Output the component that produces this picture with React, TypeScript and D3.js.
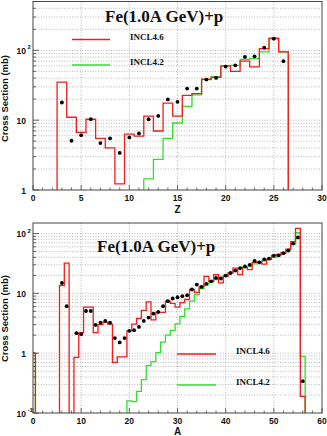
import React, { useEffect, useRef } from 'react';
import * as d3 from 'd3';

// ---- upper panel: fragment charge Z ----
const zBins = [3, 4, 5, 6, 7, 8, 9, 10, 11, 12, 13, 14, 15, 16, 17, 18, 19, 20, 21, 22, 23, 24, 25, 26];
const zIncl46 = [35, 11, 6.7, 10.3, 5.5, 4.0, 1.22, 6.3, 5.9, 11.4, 7.0, 17.5, 11.4, 22.7, 24, 38.5, 41, 60, 50, 70, 58, 106, 147, 95];
const zBins42 = [12, 13, 14, 15, 16, 17, 18, 19, 20, 21, 22, 23, 24, 25, 26];
const zIncl42 = [1.44, 2.75, 5.5, 9.1, 15.8, 23, 38, 42, 60, 61, 74, 76, 95, 150, 95];
const zExp = [17.9, 5.07, 6.1, 10.3, 4.7, 5.5, 3.4, 5.66, 6.45, 10.3, 11.5, 19.8, 18.3, 28.3, 28.3, 38.1, 40.2, 58.6, 61, 80.5, 82, 109, 147, 70];
const zTicks = [0, 5, 10, 15, 20, 25, 30];

// ---- lower panel: fragment mass A ----
const aBins = [0, 1, 2, 3, 4, 5, 6, 7, 8, 9, 10, 11, 12, 13, 14, 15, 16, 17, 18, 19, 20, 21, 22, 23, 24, 25, 26, 27, 28,
  29, 30, 31, 32, 33, 34, 35, 36, 37, 38, 39, 40, 41, 42, 43, 44, 45, 46, 47, 48, 49, 50, 51, 52, 53, 54, 55, 56];
// 0 = empty bin (below the axis)
const aIncl46 = [1.0, 0, 0, 0, 0, 0, 13.5, 32, 0, 0.85, 2.2, 5.9, 5.9, 2.2, 3.0, 3.3, 3.05, 0.70, 0.87, 0.87, 2.36, 3.05,
  3.8, 5.2, 7.2, 3.6, 4.8, 4.8, 7.4, 6.8, 5.9, 7.0, 7.9, 11.6, 10.4, 13.1, 19.2, 15.9, 20.5, 15, 19.2, 21.9, 26.5, 20.5,
  27, 25, 33, 34, 30.9, 37, 43, 45, 48, 55, 73, 122, 0.19];
const aIncl42 = [1.0, 0, 0, 0, 0, 0, 0, 0, 0, 0, 0, 0, 0, 0, 0, 0, 0, 0, 0, 0, 0.16, 0.155, 0.23, 0.36, 0.62, 0.72, 1.02,
  1.53, 2.0, 2.4, 3.1, 4.1, 5.5, 7.4, 9.6, 12, 14, 15.5, 17, 18.5, 20, 22, 24, 26, 28, 28.5, 31, 33, 35, 37, 40, 43, 46,
  52, 66, 103, 0.88];
const aExpA = [6, 7, 9, 10, 11, 12, 13, 14, 15, 16, 17, 18, 19, 20, 21, 22, 23, 24, 25, 26, 27, 28, 29, 30, 31, 32, 33,
  34, 35, 36, 37, 38, 39, 40, 41, 42, 43, 44, 45, 46, 47, 48, 49, 50, 51, 52, 53, 54, 55, 56];
const aExp = [14.9, 6.1, 2.16, 2.08, 5.07, 5.07, 2.97, 3.24, 3.46, 3.24, 1.79, 1.51, 1.79, 2.36, 2.42, 2.75, 3.46, 3.93,
  4.57, 4.88, 6.1, 7.4, 8.2, 8.6, 8.97, 9.3, 11.6, 14.0, 12.8, 14.4, 15.9, 18.1, 17.7, 19.8, 21.9, 24.0, 26.5, 28.2, 30,
  35, 33, 37, 38, 42.5, 43, 47, 52, 68, 86, 0.34];
const aTicks = [0, 10, 20, 30, 40, 50, 60];

const RED = '#f41c1c';
const GREEN = '#2fe02f';
const SANS = "'Liberation Sans', Arial, Helvetica, sans-serif";
const SERIF = "'Liberation Serif', 'Times New Roman', serif";

function histPath(xs, vs, x, y, floor) {
  let p = `M${x(xs[0] - 0.5)},${floor}`;
  xs.forEach((a, i) => {
    const yy = vs[i] > 0 ? Math.min(y(vs[i]), floor) : floor;
    p += `V${yy}H${x(a + 0.5)}`;
  });
  return p + `V${floor}`;
}

function drawPanel(svg, o) {
  const x = d3.scaleLinear().domain(o.xDomain).range([o.left, o.right]);
  const y = d3.scaleLog().domain(o.yDomain).range([o.bottom, o.top]);
  const g = svg.append('g');

  g.append('clipPath').attr('id', o.id)
    .append('rect').attr('x', o.left).attr('y', o.top)
    .attr('width', o.right - o.left).attr('height', o.bottom - o.top);

  // grid
  const lo = Math.floor(Math.log10(o.yDomain[0]));
  const hi = Math.ceil(Math.log10(o.yDomain[1]));
  const yMinor = [];
  for (let n = lo; n < hi; n++) {
    for (let k = 1; k <= 9; k++) {
      const v = k * Math.pow(10, n);
      if (v >= o.yDomain[0] * 0.999 && v <= o.yDomain[1]) yMinor.push({ v, major: k === 1, n });
    }
  }
  g.selectAll('.hgrid').data(yMinor.filter(d => d.v > o.yDomain[0] * 1.001)).enter().append('line')
    .attr('x1', o.left).attr('x2', o.right)
    .attr('y1', d => y(d.v)).attr('y2', d => y(d.v))
    .attr('stroke', '#9a9a9a').attr('stroke-width', 0.7).attr('stroke-dasharray', '1,1.6');
  g.selectAll('.vgrid').data(o.xTicks.slice(1, -1)).enter().append('line')
    .attr('x1', d => x(d)).attr('x2', d => x(d))
    .attr('y1', o.top).attr('y2', o.bottom)
    .attr('stroke', '#9a9a9a').attr('stroke-width', 0.7).attr('stroke-dasharray', '1,1.6');

  // histograms
  const h = g.append('g').attr('clip-path', `url(#${o.id})`);
  h.append('path').attr('d', histPath(o.greenX, o.green, x, y, o.bottom + 3))
    .attr('fill', 'none').attr('stroke', GREEN).attr('stroke-width', 1.3);
  h.append('path').attr('d', histPath(o.redX, o.red, x, y, o.bottom + 3))
    .attr('fill', 'none').attr('stroke', RED).attr('stroke-width', 1.3);

  h.selectAll('circle').data(o.expX).enter().append('circle')
    .attr('cx', d => x(d)).attr('cy', (d, i) => y(o.exp[i]))
    .attr('r', 1.9).attr('fill', '#000');

  // frame
  g.append('rect').attr('x', o.left).attr('y', o.top)
    .attr('width', o.right - o.left).attr('height', o.bottom - o.top)
    .attr('fill', 'none').attr('stroke', '#444').attr('stroke-width', 1);

  // x ticks
  const step = o.xTicks[1] - o.xTicks[0];
  const xMinor = d3.range(o.xDomain[0], o.xDomain[1] + 0.01, step / 5);
  g.selectAll('.xt').data(xMinor).enter().append('line')
    .attr('x1', d => x(d)).attr('x2', d => x(d))
    .attr('y1', o.bottom).attr('y2', (d, i) => o.bottom - (i % 5 === 0 ? 5 : 2.5))
    .attr('stroke', '#444').attr('stroke-width', 0.8);
  g.selectAll('.xl').data(o.xTicks).enter().append('text')
    .attr('x', d => x(d)).attr('y', o.bottom + 11)
    .attr('text-anchor', 'middle').attr('font-family', SANS).attr('font-weight', 'bold')
    .attr('font-size', 8.5).attr('fill', '#111').text(d => d);
  g.append('text').attr('x', (o.left + o.right) / 2).attr('y', o.bottom + (o.id === 'c1' ? 23 : 22))
    .attr('text-anchor', 'middle').attr('font-family', SANS).attr('font-weight', 'bold')
    .attr('font-size', 10).attr('fill', '#111').text(o.xTitle);

  // y ticks
  g.selectAll('.yt').data(yMinor).enter().append('line')
    .attr('x1', o.left).attr('x2', d => o.left + (d.major ? 6 : 3))
    .attr('y1', d => y(d.v)).attr('y2', d => y(d.v))
    .attr('stroke', '#444').attr('stroke-width', 0.8);
  const labs = g.selectAll('.yl').data(yMinor.filter(d => d.major)).enter().append('g');
  labs.append('text')
    .attr('x', 26).attr('y', d => y(d.v) + 3.5)
    .attr('text-anchor', 'end').attr('font-family', SANS).attr('font-weight', 'bold')
    .attr('font-size', 8.5).attr('fill', '#111')
    .text(d => (d.n === 0 ? '1' : '10'));
  labs.filter(d => d.n !== 0 && d.n !== 1).append('text')
    .attr('x', 27.5).attr('y', d => y(d.v) - 1)
    .attr('font-family', SANS).attr('font-weight', 'bold')
    .attr('font-size', 6).attr('fill', '#111')
    .text(d => d.n);

  g.append('text')
    .attr('transform', `translate(8,${o.yTitleEnd}) rotate(-90)`)
    .attr('text-anchor', 'end').attr('font-family', SANS).attr('font-weight', 'bold')
    .attr('font-size', 9.5).attr('fill', '#111').text('Cross Section (mb)');

  // title
  g.append('text').attr('x', o.titleX).attr('y', o.titleY)
    .attr('font-family', SERIF).attr('font-weight', 'bold').attr('font-size', 17)
    .attr('fill', '#111').text('Fe(1.0A GeV)+p');

  // legend
  const leg = [{ label: 'INCL4.6', color: RED }, { label: 'INCL4.2', color: GREEN }];
  leg.forEach((l, i) => {
    const ly = o.legY[i];
    g.append('line').attr('x1', o.legX[0]).attr('x2', o.legX[1]).attr('y1', ly).attr('y2', ly)
      .attr('stroke', l.color).attr('stroke-width', 1.3);
    g.append('text').attr('x', o.legX[2]).attr('y', ly)
      .attr('font-family', SERIF).attr('font-weight', 'bold').attr('font-size', 9)
      .attr('fill', '#111').text(l.label);
  });
}

export default function App() {
  const chartRef = useRef(null);

  useEffect(() => {
    const svg = d3.select(chartRef.current);
    svg.selectAll('*').remove();

    drawPanel(svg, {
      id: 'c1', left: 33, right: 322, top: 1.5, bottom: 190,
      xDomain: [0, 30], yDomain: [1, 500], xTicks: zTicks, xTitle: 'Z',
      redX: zBins, red: zIncl46, greenX: zBins42, green: zIncl42, expX: zBins, exp: zExp,
      yTitleEnd: 55, titleX: 105, titleY: 21.5,
      legX: [72, 110, 130], legY: [39.5, 65],
    });

    drawPanel(svg, {
      id: 'c2', left: 33, right: 322, top: 223, bottom: 413,
      xDomain: [0, 60], yDomain: [0.1, 150], xTicks: aTicks, xTitle: 'A',
      redX: aBins, red: aIncl46, greenX: aBins, green: aIncl42, expX: aExpA, exp: aExp,
      yTitleEnd: 275, titleX: 97, titleY: 251.5,
      legX: [177, 216, 236], legY: [354, 385],
    });
  }, []);

  return (
    <svg ref={chartRef} width={327} height={436}
      style={{ position: 'absolute', left: 0, top: 0, background: '#fff' }} />
  );
}
